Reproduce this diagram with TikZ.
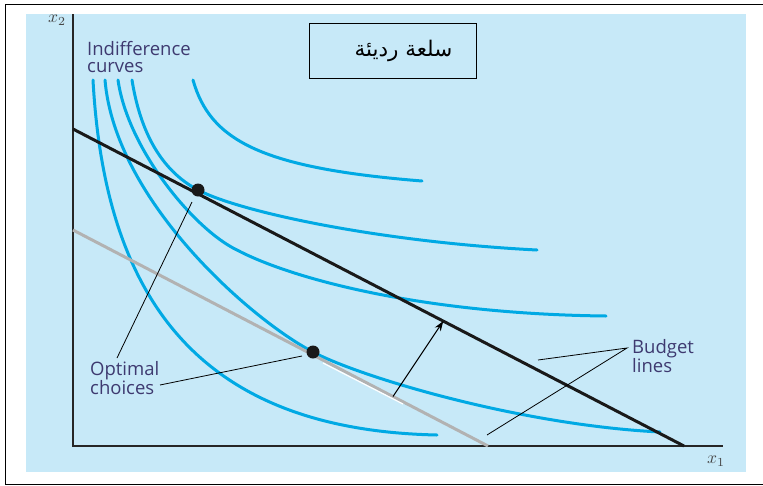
\documentclass[tikz,border=0pt]{standalone}
\usepackage{fontspec}
\usepackage{tikz}
\usetikzlibrary{arrows.meta, positioning, calc}
\newfontfamily\lblfont{Open Sans}
\newfontfamily\arabicfont[Script=Arabic]{DejaVu Sans}
\TeXXeTstate=1
\definecolor{panel}{RGB}{199,233,248}
\definecolor{icblue}{RGB}{0,169,228}
\definecolor{oldline}{RGB}{178,178,178}
\definecolor{lbltext}{RGB}{62,58,112}
\definecolor{axisgray}{RGB}{70,70,70}

\begin{document}
\begin{tikzpicture}[x=1pt, y=-1pt,
  curve/.style={icblue, line width=3pt, line cap=round},
  budget/.style={line width=3pt},
  leader/.style={black, line width=0.8pt},
  lbl/.style={font=\lblfont\fontsize{18.5}{17.5}\selectfont, text=lbltext,
    align=left, inner sep=0pt, anchor=north west},
  optdot/.style={circle, fill=black!90, minimum size=13pt, inner sep=0pt},
  axlbl/.style={text=axisgray, inner sep=0pt, scale=1.75, transform shape}
]
  \useasboundingbox (0,0) rectangle (763,485);
  \draw[line width=1pt] (763,4.5) -- (5.5,4.5) -- (5.5,484) -- (763,484);
  \fill[panel] (26,14) rectangle (746,472);

  % axes
  \coordinate (origin) at (73,446);
  \draw[line width=2.6pt, black!85] (73,14) -- (origin) -- (723,446);
  \node[axlbl] (x2) at (57,20) {$x_2$};
  \node[axlbl] (x1) at (716,461) {$x_1$};

  % indifference curves
  \draw[curve] (93,80) .. controls (105,300) and (200,430) .. (437,435);
  \draw[curve] (105,80) .. controls (115,200) and (250,319) .. (313,352)
    .. controls (360,377) and (520,425) .. (660,432);
  \draw[curve] (118,80) .. controls (128,150) and (195,230) .. (237,250)
    .. controls (290,278) and (420,314) .. (606,316);
  \draw[curve] (132,80) .. controls (140,130) and (160,170) .. (198,190)
    .. controls (240,212) and (380,242) .. (537,250);
  \draw[curve] (193,80) .. controls (210,140) and (260,168) .. (422,181);

  % budget lines
  \coordinate (newA) at (73,129);
  \coordinate (newB) at (684,446);
  \coordinate (oldA) at (73,230);
  \coordinate (oldB) at (488,446);
  \draw[budget, oldline] (oldA) -- (oldB);
  \draw[white, line width=1.2pt] (323,363) -- (403,404);
  \draw[budget, black!90] (newA) -- (newB);

  \node[optdot] (optNew) at (198,190) {};
  \node[optdot] (optOld) at (313,352) {};

  \coordinate (shiftFrom) at ($(oldA)!0.771!(oldB)$);
  \coordinate (shiftTo) at ($(newA)!0.606!(newB)$);
  \draw[-{Stealth[length=10pt, width=7pt]}, line width=1pt] (shiftFrom) -- (shiftTo);

  % labels
  \node[lbl] (icLbl) at (87,41) {Indifference\\curves};
  \node[lbl] (optLbl) at (90,361) {Optimal\\choices};
  \node[lbl] (budLbl) at (632,339) {Budget\\lines};

  \coordinate (optFoot) at (117,358);
  \coordinate (optSide) at (160,385);
  \coordinate (nearNew) at (192,202);
  \coordinate (nearOld) at (302,356);
  \draw[leader] (optFoot) -- (nearNew);
  \draw[leader] (optSide) -- (nearOld);

  \coordinate (budFoot) at (627,348);
  \coordinate (nearNewLine) at (538,360);
  \coordinate (nearOldLine) at (487,435);
  \draw[leader] (nearNewLine) -- (budFoot) -- (nearOldLine);

  \node[draw, line width=0.8pt, minimum width=167pt, minimum height=55pt,
    inner sep=0pt] (title) at (392.5,50.5)
    {\arabicfont\fontsize{21.5}{21.5}\selectfont\hspace*{22pt}\beginR سلعة رديئة\endR};
\end{tikzpicture}
\end{document}
